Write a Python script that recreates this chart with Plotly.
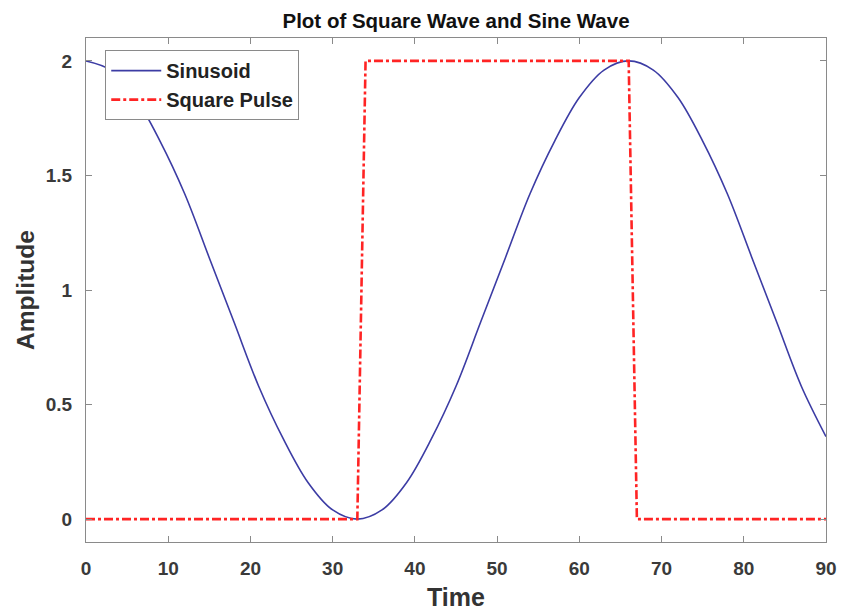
import plotly.graph_objects as go

# Sinusoid samples
sin_t = [0, 3, 6, 9, 12, 15, 18, 21, 24, 27, 30, 33, 36, 39, 42, 45, 48, 51,
         54, 57, 60, 63, 66, 69, 72, 75, 78, 81, 84, 87, 90]
sin_y = [2.0, 1.96, 1.84, 1.65, 1.42, 1.14, 0.86, 0.58, 0.35, 0.16, 0.04, 0.0,
         0.04, 0.16, 0.35, 0.58, 0.86, 1.14, 1.42, 1.65, 1.84, 1.96, 2.0, 1.96,
         1.84, 1.65, 1.42, 1.14, 0.86, 0.58, 0.36]

# Square pulse
sq_t = [0, 33, 34, 66, 67, 90]
sq_y = [0, 0, 2, 2, 0, 0]

x_ticks = [0, 10, 20, 30, 40, 50, 60, 70, 80, 90]
y_ticks = [0, 0.5, 1, 1.5, 2]
y_tick_labels = ["0", "0.5", "1", "1.5", "2"]

font_family = "Arial, Liberation Sans, sans-serif"
tick_font = dict(family=font_family, size=19, color="#3a3a3a", weight="bold")

fig = go.Figure()
fig.add_trace(go.Scatter(x=sin_t, y=sin_y, mode="lines", name="Sinusoid",
                         line=dict(color="#3c3ca4", width=1.6, shape="spline")))
fig.add_trace(go.Scatter(x=sq_t, y=sq_y, mode="lines", name="Square Pulse",
                         line=dict(color="#ff2424", width=2.6, dash="dashdot")))

axis_common = dict(showgrid=False, zeroline=False, showline=True, linecolor="#8a8a8a",
                   linewidth=1, mirror="ticks", ticks="inside", ticklen=6,
                   tickcolor="#8a8a8a", automargin=False, ticklabelstandoff=9,
                   tickfont=tick_font)

fig.update_layout(
    width=846, height=611,
    margin=dict(l=78, r=28, t=30, b=77, autoexpand=False),
    paper_bgcolor="white", plot_bgcolor="white",
    title=dict(text="<b>Plot of Square Wave and Sine Wave</b>", x=0.5, xanchor="center",
               y=0.979, yanchor="middle", xref="paper",
               font=dict(family=font_family, size=20.5, color="#111111")),
    font=dict(family=font_family),
    showlegend=True,
    legend=dict(x=0.026, y=0.976, xanchor="left", yanchor="top",
                bgcolor="white", bordercolor="#8a8a8a", borderwidth=1,
                font=dict(family=font_family, size=20, color="#222222", weight="bold"),
                itemwidth=50, tracegroupgap=0),
)
fig.update_xaxes(range=[0, 90], tickvals=x_ticks,
                 title=dict(text="<b>Time</b>", font=dict(family=font_family, size=25, color="#333333"), standoff=10),
                 **axis_common)
fig.update_yaxes(range=[-0.1, 2.1], tickvals=y_ticks, ticktext=y_tick_labels,
                 title=dict(text="<b>Amplitude</b>", font=dict(family=font_family, size=24.5, color="#333333"), standoff=4),
                 **axis_common)

fig.write_html("out.html")
